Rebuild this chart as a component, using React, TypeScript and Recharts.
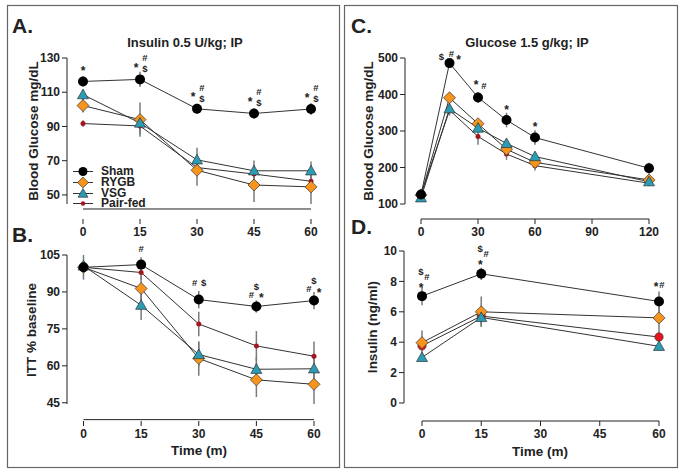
import React from "react";
import {
  ErrorBar,
  LabelList,
  Legend,
  Line,
  LineChart,
  ReferenceLine,
  XAxis,
  YAxis,
} from "recharts";

const W = 683;
const H = 474;
const FONT = '"Liberation Sans", Arial, sans-serif';
const INK = "#222";
const LINE = "#333";
const BAR = "#7a7a7a";
const ORANGE = "#f7941d";
const TEAL = "#2a9db5";
const DARKRED = "#a3161f";
const RED = "#e3141b";

// A. ITT, blood glucose (mg/dL)
const timeA = [0, 15, 30, 45, 60];
const shamA = [116.3, 117.5, 100.3, 97.6, 100.2];
const shamAErr = [3, 4.5, 3, 3, 3.5];
const rygbA = [102.2, 94, 64.4, 55.8, 54.7];
const rygbAErr = [4, 10, 9, 10, 10];
const vsgA = [108.6, 92, 70.5, 64.1, 64.1];
const vsgAErr = [3, 5, 7, 6, 5.5];
const pairA = [91.7, 90.3, 66, 62.2, 58];
const pairAErr = [2, 5, 4, 4, 3];
const annA = ["*", "*#$", "*#$", "*#$", "*#$"];

// B. ITT, % of baseline
const timeB = [0, 15, 30, 45, 60];
const shamB = [100, 101.1, 86.9, 84.1, 86.5];
const shamBErr = [5, 3, 3.5, 2.5, 3.5];
const rygbB = [100, 91.4, 63, 54.3, 52.5];
const rygbBErr = [0, 5, 7, 7, 8];
const vsgB = [100.6, 84.6, 64.6, 58.6, 58.8];
const vsgBErr = [0, 6, 5, 5, 5];
const pairB = [100, 97.9, 77, 68.1, 63.9];
const pairBErr = [0, 3, 5, 6, 6];
const annB = ["", "#", "#$", "$#*", "$#*"];

// C. GTT, blood glucose (mg/dL)
const timeC = [0, 15, 30, 45, 60, 120];
const shamC = [126, 486, 392, 330, 282, 198];
const shamCErr = [6, 8, 15, 20, 20, 15];
const rygbC = [125, 391, 320, 250, 214, 166];
const rygbCErr = [5, 10, 10, 12, 14, 8];
const vsgC = [117, 361, 308, 266, 230, 161];
const vsgCErr = [5, 12, 10, 10, 10, 8];
const pairC = [126, 357, 285, 237, 205, 157];
const pairCErr = [5, 15, 23, 16, 13, 8];
const annC = ["", "$#*", "*#", "*", "*", ""];

// D. GTT, insulin (ng/ml)
const timeD = [0, 15, 60];
const shamD = [7.03, 8.5, 6.68];
const shamDErr = [0.6, 0.4, 0.65];
const rygbD = [3.97, 6.0, 5.6];
const rygbDErr = [0.8, 1.0, 1.0];
const vsgD = [3.0, 5.63, 3.73];
const vsgDErr = [0.2, 0.6, 0.25];
const pairD = [3.76, 5.72, 4.34];
const pairDErr = [0.3, 0.5, 0.3];
const annD = ["$#*", "$#*", "*#"];

type Shape = "circle" | "diamond" | "triangle" | "dot" | "red";

function Marker({ cx, cy, shape, k = 1 }: { cx: number; cy: number; shape: Shape; k?: number }) {
  if (cx == null || cy == null) return null;
  if (shape === "circle") return <circle cx={cx} cy={cy} r={5 * k} fill="#000" />;
  if (shape === "dot") return <circle cx={cx} cy={cy} r={2.5 * k} fill={DARKRED} />;
  if (shape === "red")
    return <circle cx={cx} cy={cy} r={4.2 * k} fill={RED} stroke={LINE} strokeWidth={0.6} />;
  if (shape === "diamond") {
    const d = 6 * k;
    return (
      <polygon
        points={`${cx},${cy - d} ${cx + d},${cy} ${cx},${cy + d} ${cx - d},${cy}`}
        fill={ORANGE}
        stroke={LINE}
        strokeWidth={0.7}
      />
    );
  }
  const s = 5.5 * k;
  return (
    <polygon
      points={`${cx},${cy - s} ${cx + s},${cy + s * 0.75} ${cx - s},${cy + s * 0.75}`}
      fill={TEAL}
      stroke={LINE}
      strokeWidth={0.7}
    />
  );
}

type Series = { key: string; name: string; values: number[]; err: number[]; shape: Shape };
type Geo = { yAxisX: number; top: number; bottom: number; x0: number; xEnd: number; axisY: number };
type Layout = Record<string, Record<string, [number, number]>>;

const legendRows: { name: string; shape: Shape }[] = [
  { name: "Sham", shape: "circle" },
  { name: "RYGB", shape: "diamond" },
  { name: "VSG", shape: "triangle" },
  { name: "Pair-fed", shape: "dot" },
];

function LegendBox() {
  return (
    <div style={{ fontFamily: FONT, fontWeight: 700, fontSize: 12, color: INK }}>
      {legendRows.map((r) => (
        <div key={r.name} style={{ display: "flex", alignItems: "center", height: 10.8 }}>
          <svg width={20} height={11} style={{ overflow: "visible" }}>
            <line x1={0} x2={20} y1={5.5} y2={5.5} stroke={LINE} strokeWidth={1} />
            <Marker cx={10} cy={5.5} shape={r.shape} k={0.9} />
          </svg>
          <span style={{ marginLeft: 8, lineHeight: "10.8px" }}>{r.name}</span>
        </div>
      ))}
    </div>
  );
}

function Panel({
  times,
  series,
  ann,
  layout,
  xMax,
  xTicks,
  yDomain,
  yTicks,
  geo,
  legend = false,
}: {
  times: number[];
  series: Series[];
  ann: string[];
  layout: Layout;
  xMax: number;
  xTicks: number[];
  yDomain: [number, number];
  yTicks: number[];
  geo: Geo;
  legend?: boolean;
}) {
  const rows = times.map((t, i) => {
    const r: Record<string, number | string> = { t, ann: ann[i] };
    series.forEach((s) => {
      r[s.key] = s.values[i];
      r[s.key + "Err"] = s.err[i];
    });
    return r;
  });
  const YW = 40;
  const XH = 20;
  const unit = (yDomain[1] - yDomain[0]) / (geo.bottom - geo.top);
  const baseY = yDomain[0] - (geo.axisY - geo.bottom) * unit;

  const xTick = (p: any) => (
    <g>
      <line x1={p.x} x2={p.x} y1={geo.axisY} y2={geo.axisY + 5} stroke={INK} />
      <text
        x={p.x}
        y={geo.axisY + 13}
        textAnchor="middle"
        dominantBaseline="central"
        fontSize={12}
        fontWeight={700}
        fontFamily={FONT}
        fill={INK}
      >
        {p.payload.value}
      </text>
    </g>
  );

  const annLabel = (p: any) => {
    const code = p.value as string;
    const spec = layout[code];
    const x = p.x ?? p.viewBox?.x;
    const y = p.y ?? p.viewBox?.y;
    if (!code || !spec || x == null) return null;
    return (
      <g>
        {Object.entries(spec).map(([ch, [dx, dy]]) => (
          <text
            key={ch}
            x={x + dx}
            y={y + dy + (ch === "*" ? 3 : 0)}
            textAnchor="middle"
            dominantBaseline="central"
            fontSize={ch === "*" ? 12 : 9.5}
            fontWeight={700}
            fontFamily={FONT}
            fill={INK}
          >
            {ch}
          </text>
        ))}
      </g>
    );
  };

  // draw order: pair-fed, RYGB, VSG, Sham on top
  const order = ["pair", "rygb", "vsg", "sham"];
  const drawn = order.map((k) => series.find((s) => s.key === k)!).filter(Boolean);

  return (
    <div style={{ position: "absolute", left: 0, top: 0 }}>
      <LineChart
        width={W}
        height={H}
        data={rows}
        margin={{
          top: geo.top,
          bottom: H - geo.bottom - XH,
          left: geo.yAxisX - YW,
          right: W - geo.xEnd,
        }}
      >
        <XAxis
          type="number"
          dataKey="t"
          domain={[0, xMax]}
          ticks={xTicks}
          interval={0}
          padding={{ left: geo.x0 - geo.yAxisX, right: 0 }}
          height={XH}
          axisLine={false}
          tickLine={false}
          tick={xTick}
        />
        <YAxis
          type="number"
          domain={yDomain}
          ticks={yTicks}
          interval={0}
          width={YW}
          axisLine={{ stroke: INK }}
          tickLine={{ stroke: INK }}
          tickSize={5}
          tickMargin={2}
          tick={{ fontSize: 12, fontWeight: 700, fill: INK, fontFamily: FONT }}
        />
        <ReferenceLine
          segment={[
            { x: 0, y: baseY },
            { x: xMax, y: baseY },
          ]}
          ifOverflow="visible"
          stroke={INK}
          strokeWidth={1}
        />
        {drawn.map((s) => (
          <Line
            key={s.key}
            dataKey={s.key}
            name={s.name}
            type="linear"
            stroke={LINE}
            strokeWidth={1}
            isAnimationActive={false}
            dot={(p: any) => <Marker key={p.index} cx={p.cx} cy={p.cy} shape={s.shape} />}
            activeDot={false}
          >
            <ErrorBar dataKey={s.key + "Err"} direction="y" width={0} stroke={BAR} strokeWidth={1.5} />
            {s.key === "sham" && <LabelList dataKey="ann" content={annLabel} />}
          </Line>
        ))}
        {legend && (
          <Legend
            layout="vertical"
            align="center"
            verticalAlign="middle"
            content={() => <LegendBox />}
            wrapperStyle={{ position: "absolute", left: 73, top: 166, width: 90 }}
          />
        )}
      </LineChart>
    </div>
  );
}

const mk = (
  sham: number[],
  shamErr: number[],
  rygb: number[],
  rygbErr: number[],
  vsg: number[],
  vsgErr: number[],
  pair: number[],
  pairErr: number[],
  pairShape: Shape
): Series[] => [
  { key: "sham", name: "Sham", values: sham, err: shamErr, shape: "circle" },
  { key: "rygb", name: "RYGB", values: rygb, err: rygbErr, shape: "diamond" },
  { key: "vsg", name: "VSG", values: vsg, err: vsgErr, shape: "triangle" },
  { key: "pair", name: "Pair-fed", values: pair, err: pairErr, shape: pairShape },
];

const layoutA: Layout = {
  "*": { "*": [0, -13] },
  "*#$": { "*": [-4, -14.5], "#": [5, -21.5], $: [5, -10.5] },
};
const layoutB: Layout = {
  "#": { "#": [0, -16] },
  "#$": { "#": [-4, -17], $: [5, -17] },
  "$#*": { $: [0, -20], "#": [-5, -12], "*": [5, -11] },
};
const layoutC: Layout = {
  "$#*": { $: [-8, -7], "#": [2, -10], "*": [9, -6] },
  "*#": { "*": [-2, -15], "#": [6, -12] },
  "*": { "*": [0, -13.5] },
};
const layoutD: Layout = {
  "$#*": { $: [-1, -25], "#": [5, -20], "*": [-1, -11.5] },
  "*#": { "*": [-3, -17], "#": [3, -17] },
};

function T({ x, y, size, children, rotate = false }: { x: number; y: number; size: number; children: React.ReactNode; rotate?: boolean }) {
  return (
    <text
      x={x}
      y={y}
      textAnchor={rotate || size < 20 ? "middle" : "start"}
      dominantBaseline="central"
      fontSize={size}
      fontWeight={700}
      fontFamily={FONT}
      fill={INK}
      transform={rotate ? `rotate(-90 ${x} ${y})` : undefined}
    >
      {children}
    </text>
  );
}

export default function App() {
  return (
    <div style={{ position: "absolute", left: 0, top: 0, width: W, height: H, background: "#fff" }}>
      <svg width={W} height={H} style={{ position: "absolute", left: 0, top: 0 }}>
        <rect x={7.5} y={5.5} width={332} height={462} fill="none" stroke="#666" strokeWidth={1.2} />
        <rect x={344.5} y={5.5} width={333} height={462} fill="none" stroke="#666" strokeWidth={1.2} />
        <T x={12} y={25} size={21}>A.</T>
        <T x={12} y={234} size={21}>B.</T>
        <T x={351} y={25} size={21}>C.</T>
        <T x={351} y={226} size={21}>D.</T>
        <T x={185} y={42} size={13}>Insulin 0.5 U/kg; IP</T>
        <T x={527} y={42} size={13}>Glucose 1.5 g/kg; IP</T>
        <T x={33} y={131} size={13.5} rotate>Blood Glucose mg/dL</T>
        <T x={31} y={330} size={13.5} rotate>ITT % baseline</T>
        <T x={368} y={131} size={13.5} rotate>Blood Glucose mg/dL</T>
        <T x={372} y={327} size={13.5} rotate>Insulin (ng/ml)</T>
        <T x={199} y={450} size={13.5}>Time (m)</T>
        <T x={540} y={451} size={13.5}>Time (m)</T>
      </svg>
      <Panel
        times={timeA}
        series={mk(shamA, shamAErr, rygbA, rygbAErr, vsgA, vsgAErr, pairA, pairAErr, "dot")}
        ann={annA}
        layout={layoutA}
        xMax={60}
        xTicks={[0, 15, 30, 45, 60]}
        yDomain={[50, 130]}
        yTicks={[50, 70, 90, 110, 130]}
        geo={{ yAxisX: 67, top: 58, bottom: 204, x0: 83, xEnd: 311, axisY: 219 }}
        legend
      />
      <Panel
        times={timeB}
        series={mk(shamB, shamBErr, rygbB, rygbBErr, vsgB, vsgBErr, pairB, pairBErr, "dot")}
        ann={annB}
        layout={layoutB}
        xMax={60}
        xTicks={[0, 15, 30, 45, 60]}
        yDomain={[45, 105]}
        yTicks={[45, 60, 75, 90, 105]}
        geo={{ yAxisX: 67, top: 255, bottom: 404, x0: 83.5, xEnd: 314, axisY: 421 }}
      />
      <Panel
        times={timeC}
        series={mk(shamC, shamCErr, rygbC, rygbCErr, vsgC, vsgCErr, pairC, pairCErr, "dot")}
        ann={annC}
        layout={layoutC}
        xMax={120}
        xTicks={[0, 30, 60, 90, 120]}
        yDomain={[100, 500]}
        yTicks={[100, 200, 300, 400, 500]}
        geo={{ yAxisX: 405, top: 58, bottom: 204, x0: 421, xEnd: 649, axisY: 219 }}
      />
      <Panel
        times={timeD}
        series={mk(shamD, shamDErr, rygbD, rygbDErr, vsgD, vsgDErr, pairD, pairDErr, "red")}
        ann={annD}
        layout={layoutD}
        xMax={60}
        xTicks={[0, 15, 30, 45, 60]}
        yDomain={[0, 10]}
        yTicks={[0, 2, 4, 6, 8, 10]}
        geo={{ yAxisX: 404, top: 251, bottom: 403, x0: 422, xEnd: 659, axisY: 421 }}
      />
    </div>
  );
}
